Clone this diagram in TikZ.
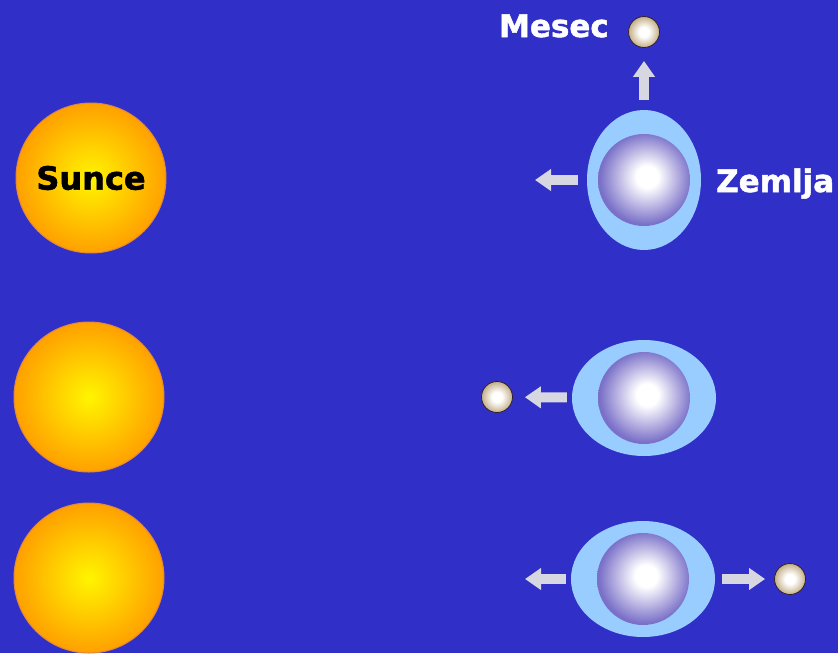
\documentclass[tikz,border=0pt]{standalone}
\usepackage{fontspec}
\setmainfont{DejaVu Sans}
\newfontfamily\heavyfont[FakeBold=1.6]{DejaVu Sans Bold}
\usetikzlibrary{shapes.geometric,arrows.meta}
\definecolor{sky}{RGB}{48,48,200}
\definecolor{bulgeblue}{RGB}{153,204,255}
\definecolor{coreedge}{RGB}{122,112,200}
\definecolor{suncore}{RGB}{255,245,0}
\definecolor{sunedge}{RGB}{255,160,0}
\definecolor{sunrim}{RGB}{225,135,60}
\definecolor{moonedge}{RGB}{195,175,135}
\definecolor{moonrim}{RGB}{50,30,40}
\definecolor{arrowgrey}{RGB}{215,215,225}
\pgfdeclareradialshading{coreglow}{\pgfpoint{2bp}{2bp}}{color(0bp)=(white); color(6bp)=(white);
	color(25bp)=(coreedge); color(50bp)=(coreedge)}
\pgfdeclareradialshading{moonglow}{\pgfpointorigin}{color(0bp)=(white); color(8bp)=(white);
	color(25bp)=(moonedge); color(50bp)=(moonedge)}

\begin{document}
\begin{tikzpicture}[x=1pt,y=-1pt,
				sun/.style={circle,minimum size=150pt,inner sep=0pt,draw=sunrim,line width=1pt,
					shade,inner color=suncore,outer color=sunedge,font=\heavyfont\fontsize{32}{32}\selectfont},
				bulge/.style={ellipse,inner sep=0pt,fill=bulgeblue},
				core/.style={circle,minimum size=92pt,inner sep=0pt,shading=coreglow},
				moon/.style={circle,minimum size=31pt,inner sep=0pt,draw=moonrim,line width=0.8pt,shading=moonglow},
				tide/.style={draw=arrowgrey,line width=10pt,-{Triangle[width=21pt,length=16pt]}},
				planetname/.style={text=white,inner sep=0pt,font=\heavyfont\fontsize{31}{31}\selectfont}]
				\fill[sky] (0,0) rectangle (838,653);
				
				\node[sun] (SUN1) at (91,178) {Sunce};
				\node[sun] (SUN2) at (89,397) {};
				\node[sun] (SUN3) at (89,578) {};
				
				\node[bulge,minimum width=114pt,minimum height=140pt] (EARTH1) at (644,180) {};
				\node[bulge,minimum width=144pt,minimum height=116pt] (EARTH2) at (644,398) {};
				\node[bulge,minimum width=144pt,minimum height=116pt] (EARTH3) at (643,579) {};
				\node[core] (CORE1) at (EARTH1) {};
				\node[core] (CORE2) at (EARTH2) {};
				\node[core] (CORE3) at (EARTH3) {};
				
				\node[moon] (MOON1) at (644,32) {};
				\node[moon] (MOON2) at (497,397) {};
				\node[moon] (MOON3) at (790,579) {};
				
				\node[planetname,anchor=base east] (MESEC)  at (609,37)  {Mesec};
				\node[planetname,anchor=base west] (ZEMLJA) at (716,192) {Zemlja};
				
				\coordinate (PULL1) at (535,180);
				\coordinate (PULL3) at (525,579);
				\draw[tide,shorten <=10pt,shorten >=13pt] (EARTH1) -- (MOON1);
				\draw[tide,shorten <=9pt] (EARTH1.west) -- (PULL1);
				\draw[tide,shorten <=5pt,shorten >=12pt] (EARTH2) -- (MOON2);
				\draw[tide,shorten <=7pt,shorten >=9pt] (EARTH3) -- (MOON3);
				\draw[tide,shorten <=5pt] (EARTH3.west) -- (PULL3);
			\end{tikzpicture}
\end{document}
